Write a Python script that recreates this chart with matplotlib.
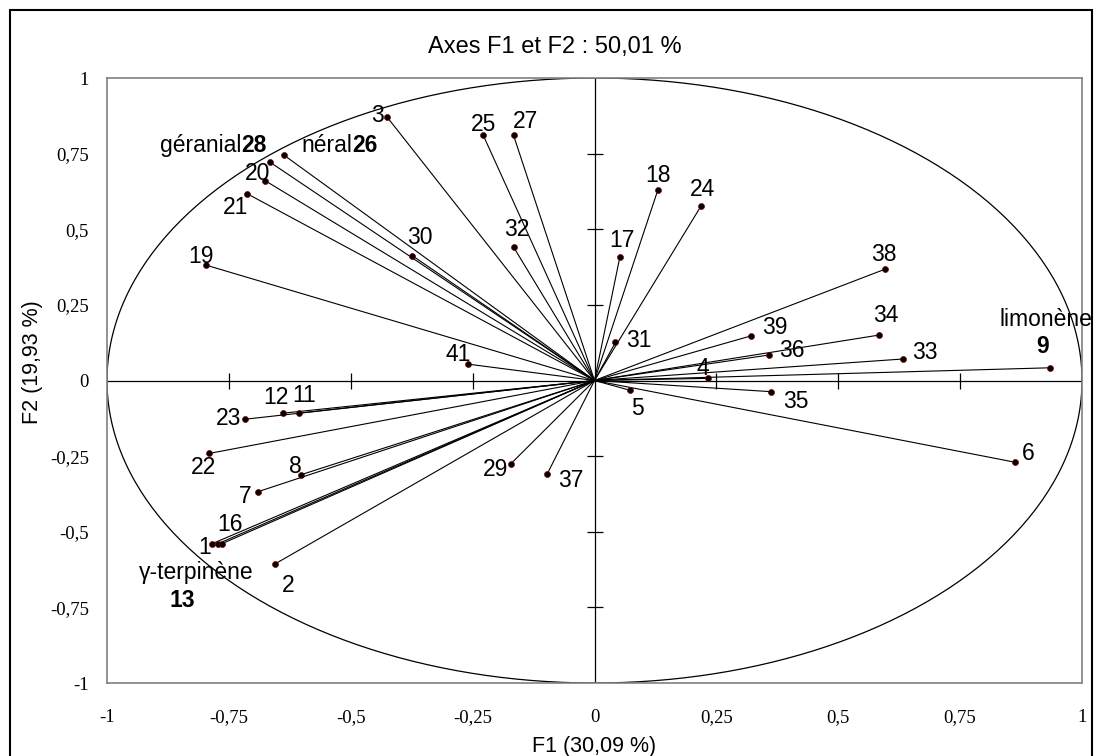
import numpy as np
import matplotlib.pyplot as plt
from matplotlib.patches import Rectangle

# noms des variables et coordonnées sur F1 / F2
labels = ['1', '16', '13', '2', '3', '28', '26', '20', '21', '19', '30',
          '25', '27', '32', '17', '18', '24', '38', '34', '39', '36', '33',
          '9', '31', '4', '5', '35', '6', '41', '12', '11', '23', '22',
          '8', '7', '29', '37']
f1 = [-0.785, -0.773, -0.765, -0.656, -0.426, -0.665, -0.637, -0.676, -0.712,
      -0.796, -0.374, -0.228, -0.166, -0.166, 0.052, 0.130, 0.219, 0.596,
      0.583, 0.320, 0.357, 0.632, 0.934, 0.043, 0.232, 0.072, 0.363, 0.862,
      -0.259, -0.639, -0.607, -0.717, -0.790, -0.603, -0.691, -0.172, -0.097]
f2 = [-0.540, -0.540, -0.540, -0.607, 0.872, 0.721, 0.745, 0.661, 0.617,
      0.381, 0.413, 0.810, 0.810, 0.441, 0.408, 0.630, 0.578, 0.368,
      0.150, 0.147, 0.084, 0.071, 0.042, 0.126, 0.007, -0.032, -0.037, -0.270,
      0.054, -0.108, -0.108, -0.128, -0.241, -0.312, -0.368, -0.276, -0.309]
# noms des composés pour certaines variables
names = {'13': 'γ-terpinène', '28': 'géranial', '26': 'néral', '9': 'limonène'}

ticks = [-1, -0.75, -0.5, -0.25, 0, 0.25, 0.5, 0.75, 1]
tick_txt = ['-1', '-0,75', '-0,5', '-0,25', '0', '0,25', '0,5', '0,75', '1']

# décalage des étiquettes (pixels)
offs = {'1': (-7, -4), '16': (12, 19), '13': (-39, -57), '2': (13, -21),
        '3': (-9, 1), '20': (-7, 7), '21': (-12, -14), '19': (-5, 9),
        '30': (8, 18), '25': (0, 11), '27': (12, 14), '32': (3, 18),
        '17': (2, 17), '18': (0, 14), '24': (1, 16), '38': (-1, 15),
        '34': (7, 20), '39': (24, 9), '36': (23, 5), '33': (22, 7),
        '9': (-7, 21), '31': (23, 2), '4': (-5, 10), '5': (8, -18),
        '35': (24, -10), '6': (14, 9), '41': (-10, 10), '12': (-7, 16),
        '11': (6, 18), '23': (-16, 1), '22': (-6, -14), '8': (-5, 8),
        '7': (-12, -5), '29': (-15, -6), '37': (24, -7)}

fs = 16.5
fig = plt.figure(figsize=(11.03, 7.56), dpi=100)
ax = fig.add_axes([107/1103, 1 - 683/756, 975/1103, 605/756])
ax.set_xlim(-1, 1)
ax.set_ylim(-1, 1)

# cercle des corrélations
t = np.linspace(0, 2*np.pi, 400)
ax.plot(np.cos(t), np.sin(t), color='black', lw=0.9)

# axes centraux avec graduations
ax.axhline(0, color='black', lw=0.9)
ax.axvline(0, color='black', lw=0.9)
tk = [v for v in ticks if v not in (-1, 0, 1)]
ax.plot(tk, [0]*len(tk), ls='none', marker='|', ms=11, mew=0.9, color='black')
ax.plot([0]*len(tk), tk, ls='none', marker='_', ms=11, mew=0.9, color='black')

# vecteurs
for x, y in zip(f1, f2):
    ax.plot([0, x], [0, y], color='black', lw=0.8)
ax.plot(f1, f2, ls='none', marker='o', ms=4.3, mfc='black', mec='#800000', mew=0.5)

font = 'Liberation Sans'
for lab, x, y in zip(labels, f1, f2):
    if lab in ('28', '26'):
        continue
    dx, dy = offs[lab]
    bold = lab in names
    ax.annotate(lab, (x, y), xytext=(dx, dy), textcoords='offset pixels',
                ha='center', va='center', fontsize=fs, family=font,
                fontweight='bold' if bold else 'normal')

i13 = labels.index('13')
ax.annotate(names['13'], (f1[i13], f2[i13]), xytext=(-25, -29), textcoords='offset pixels',
            ha='center', va='center', fontsize=fs, family=font)
i9 = labels.index('9')
ax.annotate(names['9'], (f1[i9], f2[i9]), xytext=(-4, 48), textcoords='offset pixels',
            ha='center', va='center', fontsize=fs, family=font, annotation_clip=False)
i28 = labels.index('28')
ax.annotate(names['28'], (f1[i28], f2[i28]), xytext=(-29, 17), textcoords='offset pixels',
            ha='right', va='center', fontsize=fs, family=font)
ax.annotate('28', (f1[i28], f2[i28]), xytext=(-29, 17), textcoords='offset pixels',
            ha='left', va='center', fontsize=fs, family=font, fontweight='bold')
i26 = labels.index('26')
ax.annotate(names['26'], (f1[i26], f2[i26]), xytext=(68, 10), textcoords='offset pixels',
            ha='right', va='center', fontsize=fs, family=font)
ax.annotate('26', (f1[i26], f2[i26]), xytext=(68, 10), textcoords='offset pixels',
            ha='left', va='center', fontsize=fs, family=font, fontweight='bold')

ax.set_xticks(ticks)
ax.set_xticklabels(tick_txt)
ax.set_yticks(ticks)
ax.set_yticklabels(tick_txt)
ax.tick_params(length=0, labelsize=13.5)
ax.tick_params(axis='x', pad=19)
ax.tick_params(axis='y', pad=13)
for lb in ax.get_xticklabels() + ax.get_yticklabels():
    lb.set_family('Liberation Serif')
for s in ax.spines.values():
    s.set_color('#808080')
    s.set_linewidth(1.2)

ax.set_xlabel('F1 (30,09 %)', fontsize=15.5, family=font)
ax.xaxis.set_label_coords(0.5, -0.088)
ax.set_ylabel('F2 (19,93 %)', fontsize=15.5, family=font)
ax.yaxis.set_label_coords(-0.066, 0.53)

fig.text(0.503, 1 - 47/756, 'Axes F1 et F2 : 50,01 %', ha='center', va='center',
         fontsize=17, family=font)

# cadre extérieur
fig.patches.append(Rectangle((10/1103, -0.05), 1082/1103, 1.05 - 10/756,
                             transform=fig.transFigure, fill=False, ec='black', lw=1.5))

fig.savefig('out.png', dpi=100)
